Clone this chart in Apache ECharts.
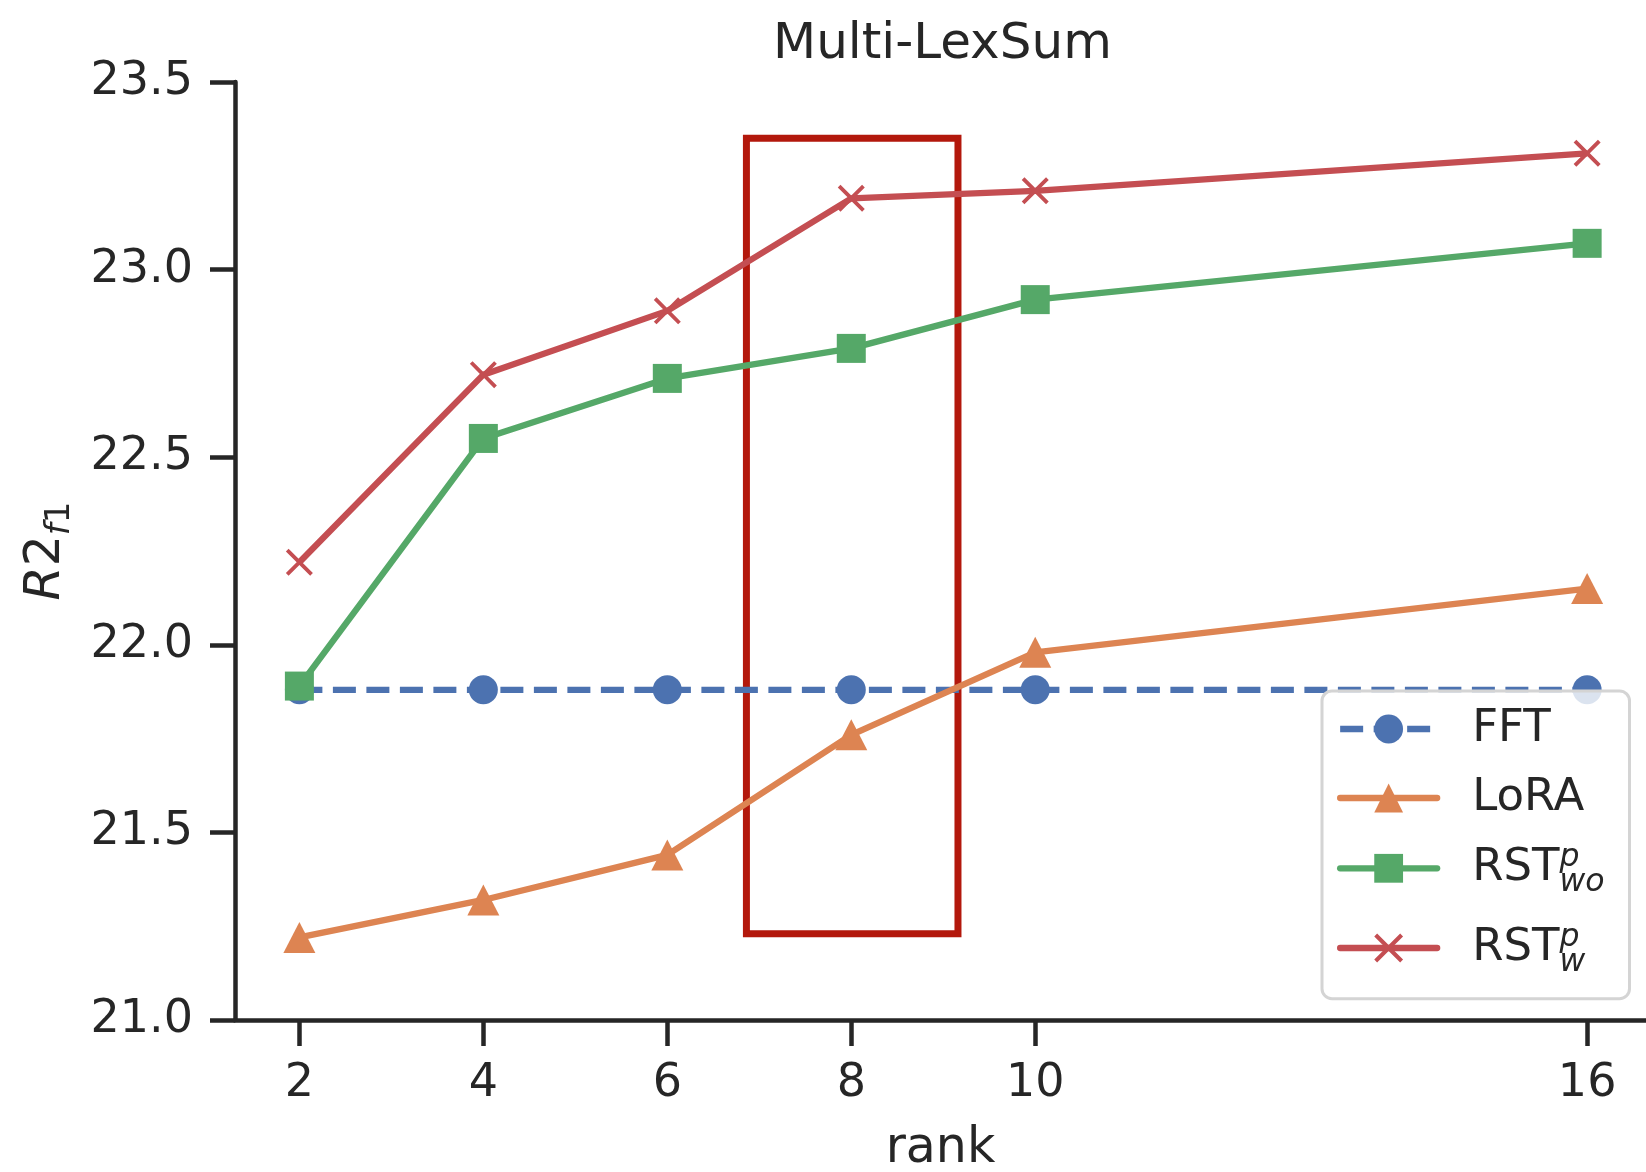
<!DOCTYPE html>
<html><head><meta charset="utf-8">
<script src="https://cdn.jsdelivr.net/npm/echarts@6/dist/echarts.min.js"></script>
<style>html,body{margin:0;padding:0;background:#fff}#c{width:1646px;height:1172px}</style>
</head><body><div id="c"></div>
<script>
// ---- data ----
const ranks = [2, 4, 6, 8, 10, 16];
const fftValues = [21.88, 21.88, 21.88, 21.88, 21.88, 21.88];
const loraValues = [21.22, 21.32, 21.44, 21.76, 21.98, 22.15];
const rstWoValues = [21.89, 22.55, 22.71, 22.79, 22.92, 23.07];
const rstWValues = [22.22, 22.72, 22.89, 23.19, 23.21, 23.31];
const seriesNames = ['FFT', 'LoRA', 'RST^p_wo', 'RST^p_w'];
const xTicks = [2, 4, 6, 8, 10, 16];
const yTicks = [21.0, 21.5, 22.0, 22.5, 23.0, 23.5];
const highlightRanks = [6.86, 9.16];
const highlightScores = [21.23, 23.35];

const FONT = 'DejaVu Sans';
const INK = '#262626';
const COLORS = ['#4C72B0', '#DD8452', '#55A868', '#C44E52'];
const LW = 6.3;
const X_SYMBOL = 'path://M10,0L50,40L90,0L100,10L60,50L100,90L90,100L50,60L10,100L0,90L40,50L0,10Z';

const pairs = vals => ranks.map((r, i) => [r, vals[i]]);

const legendLabels = {
  'FFT': 'FFT',
  'LoRA': 'LoRA',
  'RST^p_wo': 'RST{sp|p}{sb|wo}',
  'RST^p_w': 'RST{sp|p}{sb|w}'
};

const chart = echarts.init(document.getElementById('c'), null, {renderer: 'canvas'});
const option = {
  animation: false,
  backgroundColor: '#ffffff',
  title: {
    text: 'Multi-LexSum',
    left: 768, top: 15,
    textStyle: {fontFamily: FONT, fontSize: 50, fontWeight: 'normal', color: INK}
  },
  grid: {left: 235, right: 0, top: 82, bottom: 152, containLabel: false, outerBoundsMode: 'none'},
  xAxis: {
    type: 'value', min: 1.3, max: 16.64,
    name: 'rank', nameLocation: 'middle', nameGap: 105, nameMoveOverlap: false,
    nameTextStyle: {fontFamily: FONT, fontSize: 49, color: INK},
    axisLine: {show: true, onZero: false, lineStyle: {color: INK, width: 4.5}},
    axisTick: {show: true, length: 26, customValues: xTicks, lineStyle: {color: INK, width: 4.5}},
    axisLabel: {customValues: xTicks, margin: 41, fontFamily: FONT, fontSize: 46, color: INK},
    splitLine: {show: false}
  },
  yAxis: {
    type: 'value', min: yTicks[0], max: yTicks[yTicks.length - 1], interval: 0.5,
    name: '{i|R}2{si|f}{s|1}', nameLocation: 'middle', nameGap: 159, nameRotate: 90, nameMoveOverlap: false,
    nameTextStyle: {
      fontFamily: FONT, fontSize: 49, color: INK, lineHeight: 60,
      rich: {
        i: {fontFamily: FONT, fontSize: 49, fontStyle: 'italic', color: INK},
        si: {fontFamily: FONT, fontSize: 34, fontStyle: 'italic', color: INK, height: 31.6, verticalAlign: 'bottom'},
        s: {fontFamily: FONT, fontSize: 34, color: INK, height: 31.6, verticalAlign: 'bottom'}
      }
    },
    axisLine: {show: true, onZero: false, lineStyle: {color: INK, width: 4.5}},
    axisTick: {show: true, length: 25, lineStyle: {color: INK, width: 4.5}},
    axisLabel: {margin: 42, fontFamily: FONT, fontSize: 46, color: INK, formatter: v => v.toFixed(1)},
    splitLine: {show: false}
  },
  legend: {
    orient: 'vertical', left: 1322, top: 691,
    padding: [13, 25, 20, 15],
    itemWidth: 97, itemHeight: 36, itemGap: 19,
    backgroundColor: 'rgba(255,255,255,0.8)',
    borderColor: '#d4d4d4', borderWidth: 3, borderRadius: 10,
    selectedMode: false,
    lineStyle: {width: LW},
    formatter: name => legendLabels[name],
    textStyle: {
      fontFamily: FONT, fontSize: 45, color: INK, lineHeight: 50, padding: [0, 0, 0, 30],
      rich: {
        sp: {fontFamily: FONT, fontSize: 31.5, fontStyle: 'italic', color: INK, width: 0, height: 31.4, verticalAlign: 'top'},
        sb: {fontFamily: FONT, fontSize: 31.5, fontStyle: 'italic', color: INK, height: 22.6, verticalAlign: 'bottom'}
      }
    },
    data: [
      {name: seriesNames[0]},
      {name: seriesNames[1], lineStyle: {width: LW, cap: 'round'}},
      {name: seriesNames[2], lineStyle: {width: LW, cap: 'round'}, textStyle: {lineHeight: 52}},
      {name: seriesNames[3], lineStyle: {width: LW, cap: 'round'}, textStyle: {lineHeight: 52, padding: [4, 0, 4, 30]}}
    ]
  },
  series: [
    {
      name: seriesNames[0], type: 'line', data: pairs(fftValues),
      symbol: 'circle', symbolSize: 29,
      lineStyle: {color: COLORS[0], width: LW, type: [23, 10.5]},
      itemStyle: {color: COLORS[0]}
    },
    {
      name: seriesNames[1], type: 'line', data: pairs(loraValues),
      symbol: 'triangle', symbolSize: [32, 31],
      lineStyle: {color: COLORS[1], width: LW},
      itemStyle: {color: COLORS[1]}
    },
    {
      name: seriesNames[2], type: 'line', data: pairs(rstWoValues),
      symbol: 'rect', symbolSize: 29,
      lineStyle: {color: COLORS[2], width: LW},
      itemStyle: {color: COLORS[2]}
    },
    {
      name: seriesNames[3], type: 'line', data: pairs(rstWValues),
      symbol: X_SYMBOL, symbolSize: 27,
      lineStyle: {color: COLORS[3], width: LW},
      itemStyle: {color: COLORS[3]},
      markArea: {
        silent: true,
        label: {show: false},
        itemStyle: {color: 'rgba(0,0,0,0)', borderColor: '#B3180C', borderWidth: 7},
        data: [[
          {coord: [highlightRanks[0], highlightScores[1]]},
          {coord: [highlightRanks[1], highlightScores[0]]}
        ]]
      }
    }
  ]
};
chart.setOption(option);
</script>
</body></html>
